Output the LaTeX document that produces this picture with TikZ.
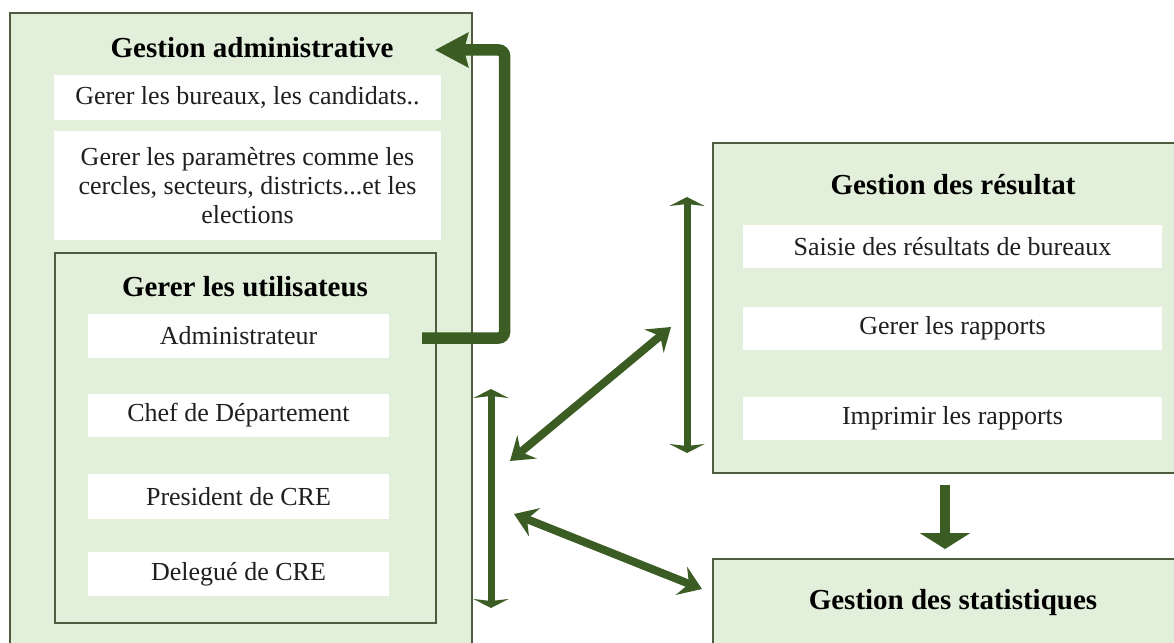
\documentclass[tikz,border=0pt]{standalone}
\usepackage{fontspec}
\setmainfont{Liberation Serif}
\usetikzlibrary{arrows.meta}
\definecolor{panelfill}{HTML}{E2EFDA}
\definecolor{panelline}{HTML}{4E5B3F}
\definecolor{arrowgreen}{HTML}{3B5D23}
\tikzset{
  panel/.style={draw=panelline, line width=1.2pt, fill=panelfill, rectangle, inner sep=0pt},
  item/.style={fill=white, rectangle, inner sep=0pt, font=\fontsize{26}{29}\selectfont, align=center, text=black!88},
  heading/.style={font=\fontsize{29}{32}\selectfont\bfseries, inner sep=0pt},
  thickconn/.style={draw=arrowgreen, line width=11.5pt, rounded corners=6pt,
    -{Stealth[length=33pt,width=34pt,inset=4pt]}},
  diagconn/.style={draw=arrowgreen, line width=8pt,
    {Stealth[length=22pt,width=30pt,inset=8pt]}-{Stealth[length=22pt,width=30pt,inset=8pt]}},
  vertconn/.style={draw=arrowgreen, line width=7pt,
    {Stealth[length=9pt,width=35pt,inset=2pt]}-{Stealth[length=9pt,width=35pt,inset=2pt]}},
  downconn/.style={draw=arrowgreen, line width=10pt,
    -{Triangle[length=16pt,width=50pt]}}
}
\begin{document}
\begin{tikzpicture}[x=1pt,y=-1pt]
\clip (0,0) rectangle (1174,642);
\fill[white] (0,0) rectangle (1174,642);

% administration panel
\node[panel, minimum width=462pt, minimum height=647pt] (admin) at (241,336.5) {};
\node[heading] (admintitle) at (252,48) {Gestion administrative};
\node[item, minimum width=387pt, minimum height=45pt] (bureaux) at (247.5,97.5)
  {Gerer les bureaux, les candidats..};
\node[item, minimum width=387pt, minimum height=109pt] (params) at (247.5,185.5)
  {Gerer les paramètres comme les\\cercles, secteurs, districts...et les\\elections};

% users sub-panel
\node[panel, minimum width=381pt, minimum height=370pt] (users) at (245.5,438) {};
\node[heading] (userstitle) at (245,287) {Gerer les utilisateus};
\node[item, minimum width=301pt, minimum height=44pt] (adm) at (238.5,336) {Administrateur};
\node[item, minimum width=301pt, minimum height=43pt] (chef) at (238.5,415.5) {Chef de Département};
\node[item, minimum width=301pt, minimum height=45pt] (pres) at (238.5,496.5) {President de CRE};
\node[item, minimum width=301pt, minimum height=44pt] (deleg) at (238.5,574) {Delegué de CRE};

% results panel
\node[panel, minimum width=477pt, minimum height=330pt] (results) at (951.5,308) {};
\node[heading] (resultstitle) at (953,185) {Gestion des résultat};
\node[item, minimum width=419pt, minimum height=43pt] (saisie) at (952.5,246.5) {Saisie des résultats de bureaux};
\node[item, minimum width=419pt, minimum height=43pt] (gerer) at (952.5,328.5) {Gerer les rapports};
\node[item, minimum width=419pt, minimum height=43pt] (impr) at (952.5,418.5) {Imprimir les rapports};

% statistics panel
\node[panel, minimum width=477pt, minimum height=121pt] (stats) at (951.5,619.5) {};
\node[heading] (statstitle) at (953,603) {Gestion des statistiques};

% connector end points
\coordinate (admout) at (422,338);
\coordinate (bend) at (504.5,50);
\coordinate (admin in) at (435,50);
\coordinate (lvtop) at (491,389);
\coordinate (lvbot) at (491,608);
\coordinate (rvtop) at (687,197);
\coordinate (rvbot) at (687,453);
\coordinate (d1a) at (671,327);
\coordinate (d1b) at (510,461);
\coordinate (d2a) at (514,514);
\coordinate (d2b) at (702,589);
\coordinate (dtop) at (945,485);
\coordinate (dbot) at (945,549);

% connectors
\draw[thickconn] (admout) -| (bend) -- (admin in);
\draw[vertconn] (lvtop) -- (lvbot);
\draw[vertconn] (rvtop) -- (rvbot);
\draw[diagconn] (d1a) -- (d1b);
\draw[diagconn] (d2a) -- (d2b);
\draw[downconn] (dtop) -- (dbot);
\end{tikzpicture}
\end{document}
